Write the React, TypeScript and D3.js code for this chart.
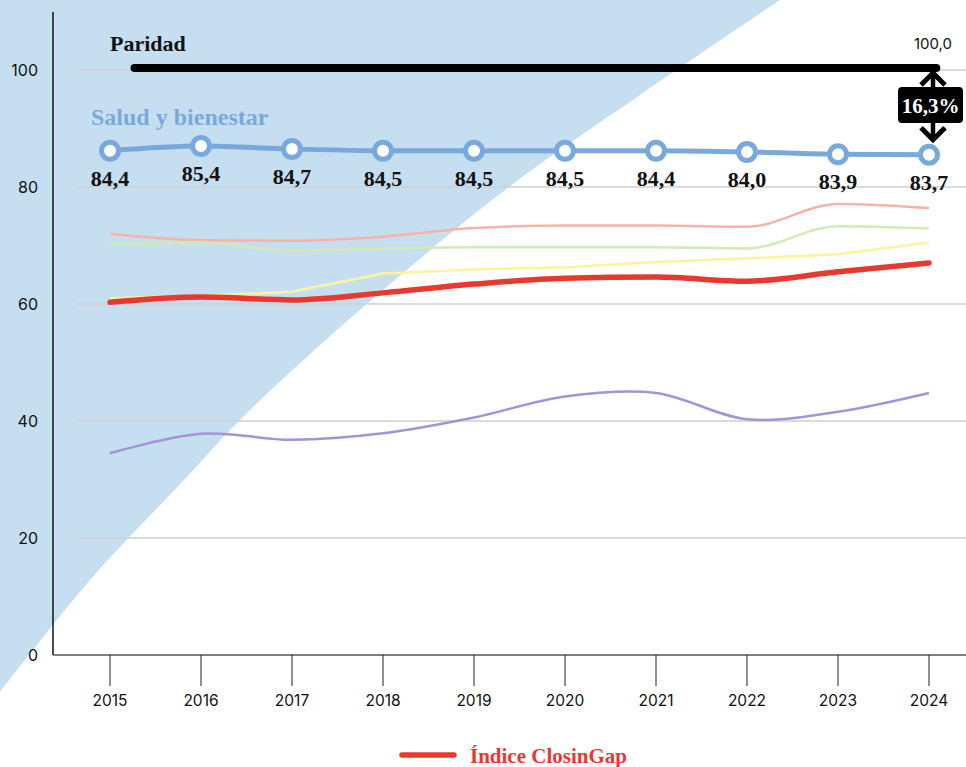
import React from "react";
import * as d3 from "d3";

const years = [2015, 2016, 2017, 2018, 2019, 2020, 2021, 2022, 2023, 2024];
const yTicks = [0, 20, 40, 60, 80, 100];

const salud = [86.2, 87.0, 86.5, 86.2, 86.2, 86.2, 86.2, 86.0, 85.6, 85.5];
const saludLabels = ["84,4", "85,4", "84,7", "84,5", "84,5", "84,5", "84,4", "84,0", "83,9", "83,7"];

const indice = [60.3, 61.2, 60.7, 61.9, 63.4, 64.4, 64.6, 63.9, 65.5, 67.0];
const serieRosa = [72.0, 70.9, 70.8, 71.5, 73.0, 73.4, 73.4, 73.2, 77.1, 76.4];
const serieVerde = [70.3, 70.5, 69.1, 69.5, 69.7, 69.7, 69.7, 69.5, 73.3, 72.9];
const serieAmarilla = [61.0, 61.4, 62.1, 65.2, 65.9, 66.3, 67.2, 67.8, 68.5, 70.5];
const serieMorada = [34.5, 37.8, 36.8, 37.9, 40.6, 44.2, 44.8, 40.3, 41.6, 44.8];

const paridad = 100;
const paridadLabel = "100,0";
const brechaLabel = "16,3%";

const W = 966;
const H = 767;

const SERIF = "'Liberation Serif', 'DejaVu Serif', serif";
const SANS = "Inter, 'Noto Sans', sans-serif";

export default function App() {
  const x = d3.scaleLinear().domain([2015, 2024]).range([110, 929]);
  const y = d3.scaleLinear().domain([0, 100]).range([655, 70]);

  const mk = (vals: number[], curve: d3.CurveFactory) =>
    d3
      .line<number>()
      .x((_, i) => x(years[i]))
      .y((v) => y(v))
      .curve(curve)(vals) as string;

  // decorative background wedge (edge from bottom-left to top)
  const wedgePts: [number, number][] = [
    [0, 692],
    [90, 580],
    [184, 480],
    [239, 421],
    [337, 330],
    [505, 190],
    [640, 95],
    [780, 0],
  ];
  const wedgeEdge = d3.line().curve(d3.curveCatmullRom)(wedgePts) as string;
  const wedge = `${wedgeEdge} L0,0 Z`;

  const blue = "#79a9dc";
  const x24 = x(2024) + 4;
  const ySalud24 = y(salud[salud.length - 1]);
  const yPar = y(paridad);

  return (
    <div style={{ position: "absolute", left: 0, top: 0, width: W, height: H, background: "#fff" }}>
      <svg width={W} height={H} style={{ display: "block" }}>
        <path d={wedge} fill="#c5dff1" />
        {/* grid */}
        {yTicks
          .filter((t) => t > 0)
          .map((t) => (
            <line key={t} x1={76} x2={W} y1={y(t)} y2={y(t)} stroke="#cfcfcf" strokeWidth={1.5} />
          ))}
        {/* axes */}
        <line x1={53} x2={53} y1={12} y2={y(0)} stroke="#111" strokeWidth={1.5} />
        <line x1={53} x2={W} y1={y(0)} y2={y(0)} stroke="#555" strokeWidth={1.5} />
        {yTicks.map((t) => (
          <text key={t} x={38} y={y(t) + 6} textAnchor="end" fontFamily={SANS} fontSize={16} fill="#111">
            {t}
          </text>
        ))}
        {years.map((yr) => (
          <g key={yr}>
            <line x1={x(yr)} x2={x(yr)} y1={y(0)} y2={y(0) + 31} stroke="#222" strokeWidth={1} />
            <text x={x(yr)} y={706} textAnchor="middle" fontFamily={SANS} fontSize={15.5} fill="#111">
              {yr}
            </text>
          </g>
        ))}
        {/* thin series */}
        <path d={mk(serieMorada, d3.curveCatmullRom)} fill="none" stroke="#a394d8" strokeWidth={2.5} />
        <path d={mk(serieRosa, d3.curveMonotoneX)} fill="none" stroke="#f8b3a8" strokeWidth={2.5} />
        <path d={mk(serieVerde, d3.curveMonotoneX)} fill="none" stroke="#d2eab5" strokeWidth={2.5} />
        <path d={mk(serieAmarilla, d3.curveLinear)} fill="none" stroke="#fbf49c" strokeWidth={2.5} />
        {/* index */}
        <path
          d={mk(indice, d3.curveMonotoneX)}
          fill="none"
          stroke="#e8392f"
          strokeWidth={5.5}
          strokeLinecap="round"
          strokeLinejoin="round"
        />
        {/* parity */}
        <text x={110} y={51} fontFamily={SERIF} fontWeight="bold" fontSize={22} fill="#111">
          Paridad
        </text>
        <line x1={x(2015.27)} x2={x(2024.08)} y1={yPar - 2} y2={yPar - 2} stroke="#000" strokeWidth={8} strokeLinecap="round" />
        <text x={x(2024) + 4} y={49} textAnchor="middle" fontFamily={SANS} fontSize={15} fill="#111">
          {paridadLabel}
        </text>
        {/* salud */}
        <text x={91} y={125} fontFamily={SERIF} fontWeight="bold" fontSize={24} fill={blue}>
          Salud y bienestar
        </text>
        <path d={mk(salud, d3.curveMonotoneX)} fill="none" stroke={blue} strokeWidth={5} />
        {salud.map((v, i) => (
          <g key={i}>
            <circle cx={x(years[i])} cy={y(v)} r={8.5} fill="#fff" stroke={blue} strokeWidth={5} />
            <text
              x={x(years[i])}
              y={y(v) + 35}
              textAnchor="middle"
              fontFamily={SERIF}
              fontWeight="bold"
              fontSize={22}
              fill="#111"
            >
              {saludLabels[i]}
            </text>
          </g>
        ))}
        {/* gap arrow */}
        <line x1={x24} x2={x24} y1={yPar + 3} y2={ySalud24 - 14} stroke="#000" strokeWidth={4.5} />
        <path
          d={`M${x24 - 12},${yPar + 15} L${x24},${yPar + 3} L${x24 + 12},${yPar + 15}`}
          fill="none"
          stroke="#000"
          strokeWidth={5}
        />
        <path
          d={`M${x24 - 12},${ySalud24 - 27} L${x24},${ySalud24 - 15} L${x24 + 12},${ySalud24 - 27}`}
          fill="none"
          stroke="#000"
          strokeWidth={5}
        />
        <rect x={898} y={87} width={65} height={36} rx={4} fill="#000" />
        <text x={930.5} y={113} textAnchor="middle" fontFamily={SERIF} fontWeight="bold" fontSize={21} fill="#fff">
          {brechaLabel}
        </text>
        {/* legend */}
        <line x1={402} x2={454} y1={755} y2={755} stroke="#e8392f" strokeWidth={5.5} strokeLinecap="round" />
        <text x={470} y={763} fontFamily={SERIF} fontWeight="bold" fontSize={21} fill="#e8392f">
          Índice ClosinGap
        </text>
      </svg>
    </div>
  );
}
